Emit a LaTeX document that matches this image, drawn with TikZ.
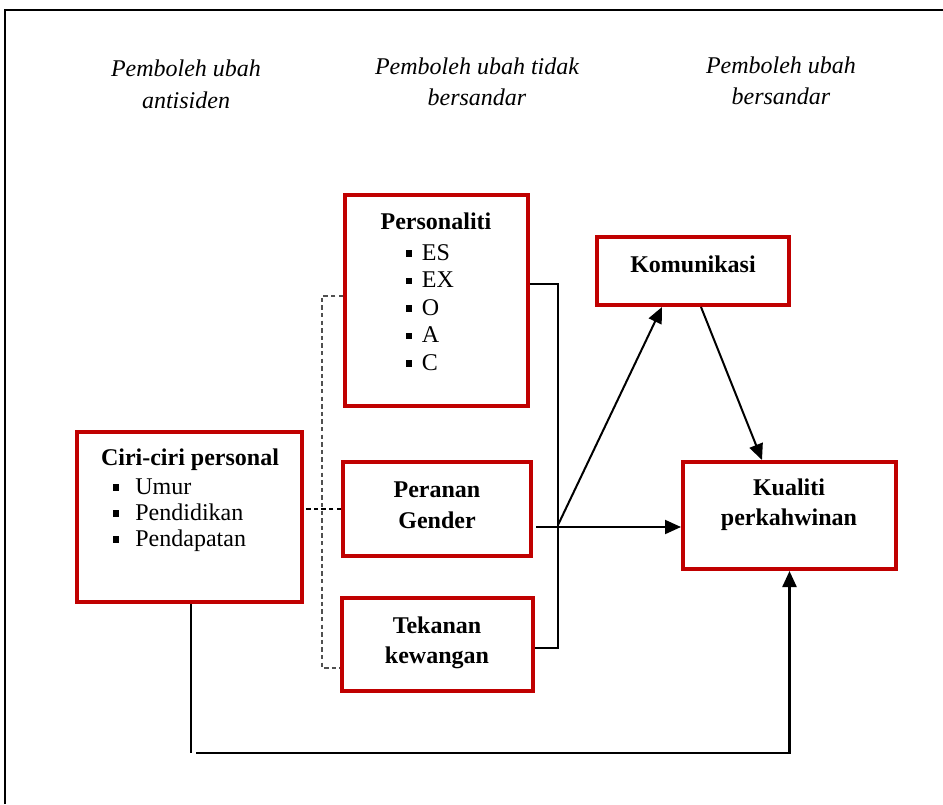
\documentclass[tikz,border=0pt]{standalone}
\usepackage{fontspec}
\setmainfont{Liberation Serif}
\usetikzlibrary{arrows.meta}
\definecolor{boxred}{RGB}{192,0,0}
\definecolor{dashgray}{RGB}{80,80,80}
\tikzset{
  box/.style={draw=boxred, line width=2pt, inner sep=0pt, fill=white},
  txt/.style={inner sep=0pt, font=\fontsize{12}{14}\selectfont},
  btxt/.style={txt, font=\fontsize{12}{14}\selectfont\bfseries, anchor=base},
  itxt/.style={txt, font=\fontsize{12}{14}\selectfont\itshape, anchor=base},
  ltxt/.style={txt, anchor=base west},
  bul/.style={fill=black, inner sep=0pt, minimum size=3.2pt, anchor=south west},
  conn/.style={draw=black, line width=1pt},
  arr/.style={conn, -{Triangle[length=8pt,width=7pt]}},
  dline/.style={draw=dashgray, line width=0.6pt, dash pattern=on 2.2pt off 1.6pt},
}
\begin{document}
\begin{tikzpicture}[x=0.5pt, y=-0.5pt]
\useasboundingbox (0,0) rectangle (943,804);
\fill[white] (0,0) rectangle (943,804);
% frame
\draw[line width=1.2pt] (5,804) -- (5,10) -- (943,10);

% headers
\node[itxt] (h1a) at (186,76) {Pemboleh ubah};
\node[itxt] (h1b) at (186,108) {antisiden};
\node[itxt] (h2a) at (477,74) {Pemboleh ubah tidak};
\node[itxt] (h2b) at (477,105) {bersandar};
\node[itxt] (h3a) at (781,73) {Pemboleh ubah};
\node[itxt] (h3b) at (781,104) {bersandar};

% boxes
\node[box, minimum width=91.5pt, minimum height=105.5pt] (pers) at (436.5,300.5) {};
\node[box, minimum width=96pt, minimum height=34pt] (kom) at (693,271) {};
\node[box, minimum width=112.5pt, minimum height=85pt] (ciri) at (189.5,517) {};
\node[box, minimum width=94pt, minimum height=47pt] (per) at (437,509) {};
\node[box, minimum width=106.5pt, minimum height=53.5pt] (kual) at (789.5,515.5) {};
\node[box, minimum width=95.5pt, minimum height=46.5pt] (tek) at (437.5,644.5) {};

% box texts
\node[btxt] (persT) at (436,229) {Personaliti};
\foreach \t [count=\i from 0] in {ES,EX,O,A,C}{
  \node[bul] (pb\i) at (405.5,{260+27.5*\i-3}) {};
  \node[ltxt] (pl\i) at (421.5,{260+27.5*\i}) {\t};
}
\node[btxt] (komT) at (693,272) {Komunikasi};
\node[btxt] (ciriT) at (190,465) {Ciri-ciri personal};
\foreach \t/\yy [count=\i from 0] in {Umur/494,Pendidikan/520,Pendapatan/546}{
  \node[bul] (cb\i) at (112.5,{\yy-3}) {};
  \node[ltxt] (cl\i) at (135,\yy) {\t};
}
\node[btxt] (perT1) at (437,497) {Peranan};
\node[btxt] (perT2) at (437,528) {Gender};
\node[btxt] (kualT1) at (789,495) {Kualiti};
\node[btxt] (kualT2) at (789,525) {perkahwinan};
\node[btxt] (tekT1) at (437,633) {Tekanan};
\node[btxt] (tekT2) at (437,663) {kewangan};

% dashed connectors
\coordinate (dtop) at (322,296);
\coordinate (dbot) at (322,668);
\draw[dline] (dtop -| pers.west) -- (dtop) -- (dbot) -- (dbot -| tek.west);
\draw[dline, draw=black] (per.west) -- (per.west -| ciri.east);

% bracket
\coordinate (bt) at (558,284);
\coordinate (bb) at (558,648);
\draw[conn] (bt -| pers.east) -- (bt) -- (bb) -- (bb -| tek.east);

% arrows
\coordinate (hs) at (536,527);
\draw[arr] (hs) -- (hs -| kual.west);
\coordinate (br) at (558,525);
\draw[arr] (br) -- ([xshift=-15.5pt]kom.south);
\draw[arr] ([xshift=4pt]kom.south) -- ([xshift=-13.75pt]kual.north);

% bottom path
\coordinate (c1) at (191,753);
\coordinate (c2) at (196,753);
\draw[conn, line width=0.8pt] (ciri.south -| c1) -- (c1);
\draw[arr, line width=1.2pt] (c2) -| (kual.south);
\end{tikzpicture}
\end{document}
